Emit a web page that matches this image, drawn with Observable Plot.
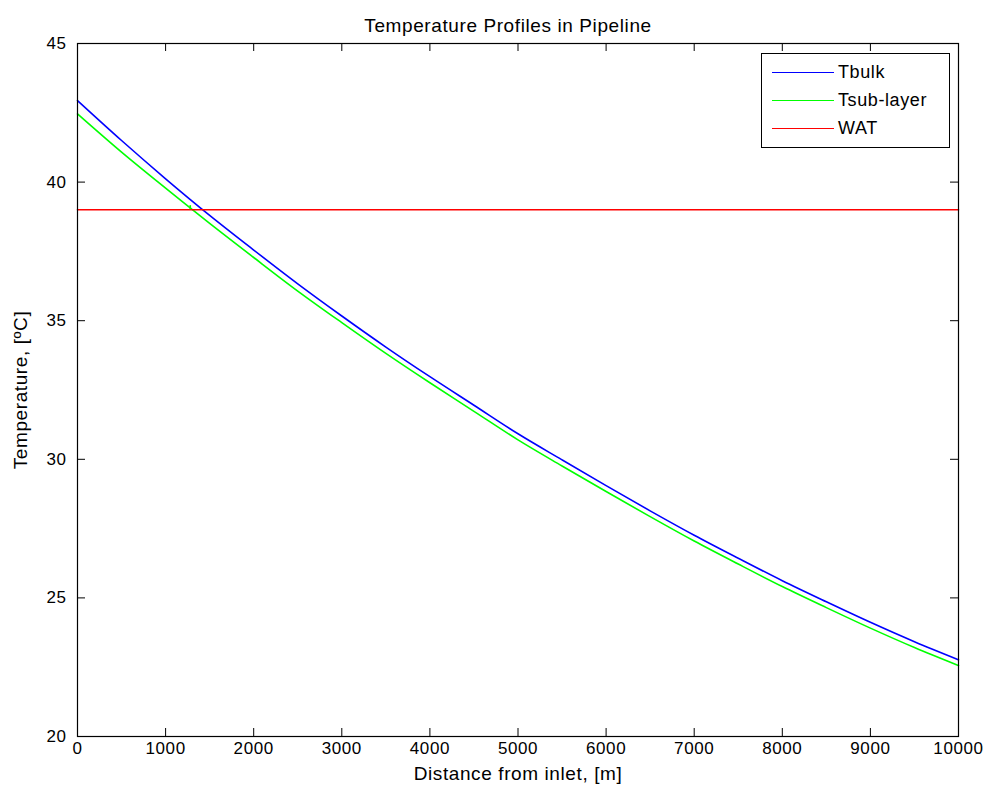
<!DOCTYPE html>
<html>
<head>
<meta charset="utf-8">
<script src="https://cdn.jsdelivr.net/npm/d3@7"></script>
<script src="https://cdn.jsdelivr.net/npm/@observablehq/plot@0.6"></script>
<style>
  body { margin: 0; background: #fff; }
  #wrap { position: relative; width: 990px; height: 799px; font-family: "Liberation Sans", Arial, sans-serif; }
  .legend { position: absolute; left: 761px; top: 53px; width: 187px; height: 93px;
            border: 1px solid #000; background: #fff; box-sizing: content-box; }
  .legend .row { position: absolute; left: 0; height: 20px; display: flex; align-items: center; }
  .legend .swatch { width: 62px; height: 0; border-top: 1.5px solid; margin-left: 10px; margin-right: 4px; }
  .legend .lbl { font-size: 18px; color: #000; letter-spacing: 0.6px; }
</style>
</head>
<body>
<div id="wrap"></div>
<script>
// Distance along the pipeline, m
const distance = [0, 500, 1000, 1500, 2000, 2500, 3000, 3500, 4000, 4500, 5000,
                  5500, 6000, 6500, 7000, 7500, 8000, 8500, 9000, 9500, 10000];
// Bulk fluid temperature, °C
const tBulk = [42.94, 41.50, 40.12, 38.80, 37.55, 36.33, 35.17, 34.05, 32.98, 31.95, 30.92,
               29.98, 29.05, 28.14, 27.26, 26.43, 25.62, 24.86, 24.12, 23.42, 22.77];
// Sub-layer temperature, °C
const tSubLayer = [42.46, 41.08, 39.78, 38.51, 37.28, 36.07, 34.93, 33.82, 32.76, 31.73, 30.70,
                   29.76, 28.84, 27.93, 27.05, 26.22, 25.41, 24.65, 23.91, 23.21, 22.56];
// Wax appearance temperature, °C
const wat = 39;
// Point where the sub-layer first reaches the WAT
const subLayerCrossing = [1280];

const xTicks = [0, 1000, 2000, 3000, 4000, 5000, 6000, 7000, 8000, 9000, 10000];
const yTicks = [20, 25, 30, 35, 40, 45];

const seriesNames = ["Tbulk", "Tsub-layer", "WAT"];
const seriesColors = ["#0000ff", "#00ff00", "#ff0000"];

const bulkRows = distance.map((d, i) => ({distance: d, temp: tBulk[i]}));
const subRows = distance.map((d, i) => ({distance: d, temp: tSubLayer[i]}));
const watRows = [{distance: distance[0], temp: wat}, {distance: distance[distance.length - 1], temp: wat}];

const W = 990, H = 799, mL = 77, mR = 32, mT = 43, mB = 63;
const frameW = W - mL - mR, frameH = H - mT - mB;
const tick = 8;

const chart = Plot.plot({
  width: W,
  height: H,
  marginLeft: mL, marginRight: mR, marginTop: mT, marginBottom: mB,
  x: {domain: [0, 10000]},
  y: {domain: [20, 45]},
  style: {fontFamily: '"Liberation Sans", Arial, sans-serif', fontSize: "17px", letterSpacing: "0.6px",
          color: "#000", background: "#fff", overflow: "visible"},
  marks: [
    // tick labels
    Plot.axisX({anchor: "bottom", ticks: xTicks, tickSize: 0, tickPadding: 5, tickFormat: d => String(d), label: null}),
    Plot.axisY({anchor: "left", ticks: yTicks, tickSize: 0, tickPadding: 11, tickFormat: d => String(d), label: null}),
    // inward tick marks on all four sides
    Plot.tickX(xTicks, {x: d => d, insetTop: frameH - tick, stroke: "#000"}),
    Plot.tickX(xTicks, {x: d => d, insetBottom: frameH - tick, stroke: "#000"}),
    Plot.tickY(yTicks, {y: d => d, insetRight: frameW - tick, stroke: "#000"}),
    Plot.tickY(yTicks, {y: d => d, insetLeft: frameW - tick, stroke: "#000"}),
    // curves
    Plot.line(bulkRows, {x: "distance", y: "temp", stroke: seriesColors[0], strokeWidth: 1.6, curve: "monotone-x"}),
    Plot.line(subRows, {x: "distance", y: "temp", stroke: seriesColors[1], strokeWidth: 1.6, curve: "monotone-x"}),
    Plot.line(watRows, {x: "distance", y: "temp", stroke: seriesColors[2], strokeWidth: 1.6}),
    Plot.ruleX(subLayerCrossing, {x: d => d, y1: wat, y2: wat + 0.15, stroke: seriesColors[1], strokeWidth: 1.6}),
    Plot.frame({stroke: "#000", strokeWidth: 1.2}),
    // titles
    Plot.text(["Temperature Profiles in Pipeline"], {text: d => d, frameAnchor: "top", dy: -25, dx: -10, fontSize: 19}),
    Plot.text(["Distance from inlet, [m]"], {text: d => d, frameAnchor: "bottom", dy: 43, fontSize: 19}),
    Plot.text(["Temperature, [ºC]"], {text: d => d, frameAnchor: "left", textAnchor: "middle", dx: -57, rotate: -90, fontSize: 19})
  ]
});

const wrap = document.getElementById("wrap");
wrap.appendChild(chart);

// legend box in the upper right corner of the axes
const legend = document.createElement("div");
legend.className = "legend";
const rowTops = [8, 36, 64];
seriesNames.forEach((name, i) => {
  const row = document.createElement("div");
  row.className = "row";
  row.style.top = rowTops[i] + "px";
  const sw = document.createElement("div");
  sw.className = "swatch";
  sw.style.borderTopColor = seriesColors[i];
  const lbl = document.createElement("span");
  lbl.className = "lbl";
  lbl.textContent = name;
  row.appendChild(sw);
  row.appendChild(lbl);
  legend.appendChild(row);
});
wrap.appendChild(legend);
</script>
</body>
</html>
